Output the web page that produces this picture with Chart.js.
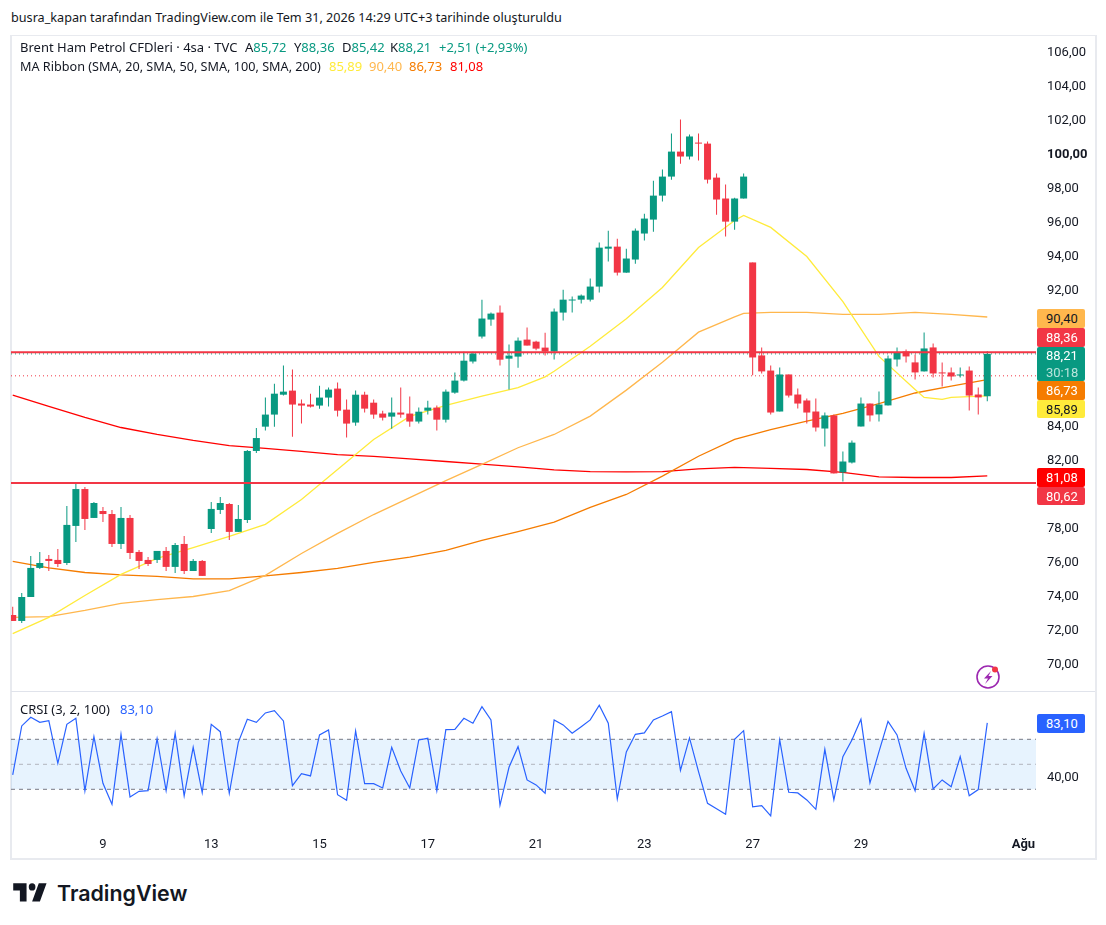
<!DOCTYPE html>
<html>
<head>
<meta charset="utf-8">
<title>Brent Ham Petrol CFDleri</title>
<script src="https://cdn.jsdelivr.net/npm/chart.js@4"></script>
<style type="text/css">
  html, body { margin: 0; padding: 0; background: #fff; }
  body { width: 1106px; height: 925px; position: relative; overflow: hidden;
         font-family: "Noto Sans", sans-serif; font-size: 13px; color: #131722; }
  #frame { position: absolute; left: 10px; top: 35px; width: 1083px; height: 822px; border: 1px solid #e8eaef; border-width: 1px 2px 2px 2px; }
  #sep { position: absolute; left: 11px; top: 691px; width: 1084px; height: 1px; background: #e0e3eb; }
  canvas { position: absolute; }
  #mainChart { left: 11px; top: 36px; }
  #crsiChart { left: 11px; top: 692px; }
  .txt { position: absolute; white-space: pre; line-height: 16px; }
  .box { position: absolute; left: 1037px; width: 39px; padding-left: 9px; text-align: left; line-height: 19px; border-radius: 2px; font-family: Roboto, sans-serif; }
  .g { color: #089981; }
</style>
<script>
// 4h candles
var opens = [72.85,72.50,73.91,75.62,76.15,76.09,75.91,78.09,80.26,78.56,78.97,78.79,77.03,78.56,76.56,76.09,76.09,76.62,75.68,77.03,75.44,76.03,77.91,79.03,79.38,77.74,78.44,82.50,83.93,84.64,85.81,86.05,85.29,85.23,85.17,85.64,86.17,84.93,84.17,85.81,85.34,84.70,84.52,84.76,84.70,84.23,84.87,85.05,84.34,85.93,86.64,87.76,89.23,90.23,90.64,87.93,88.05,89.05,88.93,88.58,88.35,90.64,91.35,91.40,91.40,92.17,94.40,94.52,92.99,93.76,95.29,96.11,97.52,98.64,100.11,99.82,100.64,100.58,98.58,97.35,95.99,97.35,93.59,88.12,87.23,84.82,87.00,85.82,85.47,84.82,83.82,84.59,81.24,81.82,83.94,85.29,84.65,85.18,87.88,88.35,87.71,87.18,88.59,87.12,87.12,86.94,87.23,85.82,85.72];
var highs = [73.34,74.15,76.32,76.56,76.38,76.74,79.26,80.62,80.38,79.50,79.21,79.03,79.21,78.74,76.68,76.26,76.62,76.85,77.09,77.50,76.15,76.09,79.50,79.79,79.44,79.32,82.56,83.85,85.64,86.46,87.52,87.29,85.52,85.87,86.34,86.23,86.52,85.52,86.05,85.99,85.52,84.87,85.64,86.23,85.70,85.05,85.46,85.17,86.11,87.11,88.34,88.34,91.40,90.64,91.05,88.76,89.17,89.76,88.99,89.46,90.88,91.99,91.58,91.70,92.64,94.76,95.46,94.99,94.40,95.58,96.46,98.40,99.05,101.17,102.00,101.11,101.17,100.70,98.82,98.17,97.40,98.82,93.59,88.59,87.53,87.41,87.00,86.18,85.59,85.59,84.76,84.65,82.47,83.12,85.65,85.29,86.00,88.12,88.59,88.47,88.18,89.47,88.82,87.71,87.41,87.41,87.47,86.23,88.36];
var lows = [72.50,72.38,73.91,75.56,75.44,75.68,75.79,77.15,77.85,78.56,78.32,76.85,76.74,76.15,75.56,75.74,75.91,75.44,75.32,75.26,75.44,75.15,77.68,78.79,77.26,77.74,78.26,82.38,83.70,83.93,85.76,83.34,84.11,85.05,84.99,85.11,84.52,83.29,83.99,84.76,84.40,84.29,83.81,84.46,83.93,84.11,84.64,83.70,84.17,85.87,86.58,87.64,89.11,89.87,87.52,86.11,87.40,88.70,88.42,88.11,87.88,90.17,90.64,91.17,91.29,91.82,93.64,92.82,92.99,93.52,94.88,95.40,97.17,98.46,99.40,99.64,99.58,98.23,96.40,95.11,95.52,97.35,86.96,87.06,84.65,84.82,85.65,85.00,84.12,83.65,82.76,81.18,80.71,81.76,83.94,84.24,84.24,85.18,87.47,87.71,86.71,87.18,86.82,86.29,86.65,86.82,84.88,84.65,85.42];
var closes = [72.50,73.91,75.62,75.91,76.03,75.85,78.15,80.26,78.50,79.44,78.79,77.03,78.56,76.50,76.03,75.85,76.62,75.68,76.97,75.44,76.03,75.15,79.09,79.44,77.74,78.50,82.50,83.26,84.64,85.87,85.99,85.23,85.17,85.11,85.64,86.11,84.87,84.11,85.81,84.99,84.64,84.46,84.76,84.64,84.23,84.81,85.05,84.34,85.99,86.64,87.81,88.23,90.29,90.58,87.87,88.11,88.99,88.70,88.52,88.35,90.70,91.40,91.40,91.64,92.17,94.46,94.52,92.99,93.82,95.46,96.17,97.52,98.64,100.11,99.82,101.00,100.58,98.46,97.29,95.99,97.35,98.64,88.00,87.18,84.76,87.00,85.76,85.29,84.76,83.88,84.59,81.18,81.88,82.99,85.29,84.59,85.23,87.94,88.29,88.06,87.12,88.53,87.06,87.06,86.88,87.00,85.76,85.65,88.21];

// MA ribbon, sampled about every 4 candles
var maIdx = [0,4,8,12,16,20,24,28,32,36,40,44,48,52,56,60,64,68,72,76,80,84,88,92,96,100,104,108];
var ma100 = [76.00,75.62,75.35,75.21,75.12,74.97,74.97,75.15,75.35,75.59,75.94,76.26,76.65,77.24,77.76,78.31,79.18,79.94,81.02,82.19,83.18,83.76,84.26,84.71,85.29,85.91,86.32,86.70];
var ma200 = [85.79,85.12,84.47,83.88,83.47,83.12,82.82,82.65,82.47,82.29,82.18,82.03,81.88,81.72,81.57,81.39,81.29,81.27,81.29,81.45,81.53,81.47,81.41,81.24,80.97,80.94,80.94,81.03];
var ma50Idx = [0,4,8,12,16,20,24,28,32,36,40,44,48,52,56,60,64,68,72,76,80,81,84,88,92,96,100,104,108];
var ma50 = [72.71,72.76,73.12,73.53,73.76,73.94,74.29,75.18,76.47,77.65,78.76,79.76,80.76,81.71,82.69,83.47,84.55,86.08,87.72,89.49,90.39,90.59,90.65,90.65,90.53,90.53,90.65,90.53,90.38];
var ma20Idx = [0,4,8,12,16,20,24,28,32,36,40,44,48,52,56,59,60,64,68,72,76,80,81,84,88,92,96,100,101,103,104,108];
var ma20 = [71.76,72.71,74.00,75.24,76.18,76.82,77.47,78.18,79.65,81.41,83.18,84.53,85.18,85.72,86.22,86.86,87.19,88.66,90.28,92.12,94.47,96.06,96.35,95.65,93.94,91.29,88.06,86.12,85.65,85.53,85.65,85.74];

var crsi = [41.5,80.7,87.6,83.6,84.9,50.8,82.0,86.8,28.7,72.1,34.8,18.0,74.0,23.9,28.4,28.9,70.5,28.9,74.8,24.7,63.6,27.3,82.0,76.1,26.8,67.6,86.0,83.6,91.1,92.9,84.7,32.9,42.5,40.7,73.5,77.5,25.7,21.2,76.7,34.5,34.5,31.1,63.6,44.7,31.1,69.5,70.8,28.9,77.7,78.0,86.8,82.8,96.1,85.5,17.2,47.6,64.1,37.5,33.5,26.8,85.5,81.5,74.8,80.1,85.5,97.2,82.8,22.3,59.9,74.0,75.1,85.5,88.7,92.1,45.2,71.1,44.1,18.8,14.5,10.0,70.0,76.9,15.9,17.0,8.7,69.5,27.6,27.1,21.5,14.0,62.0,21.5,56.1,69.5,86.0,35.1,60.1,84.4,73.5,46.8,28.9,74.8,30.3,37.5,32.1,56.1,24.9,29.8,83.1];

// axis ticks
var priceTicks = [106,104,102,100,98,96,94,92,84,82,78,76,74,72,70];
var crsiTicks = [40];
var timeIdx = [10,22,34,46,58,70,82,94,112];
var timeLabels = ['9','13','15','17','21','23','27','29','Ağu'];

// levels
var levelUpper = 88.31;
var levelLower = 80.62;
var lastClose = 88.21;
var prevRef = 86.92;
var bandTop = 70, bandMid = 50, bandBottom = 30;

var xMin = -0.19, xMax = 113.4;
var GREEN = '#089981', RED = '#f23645';

function fmt(v) { return v.toFixed(2).replace('.', ','); }
function pts(xs, ys) { return xs.map(function(x, i) { return {x: x, y: ys[i]}; }); }
function hline(v) { return [{x: xMin, y: v}, {x: xMax, y: v}]; }
function lineDs(data, color, width, order, dash) {
  return {type: 'line', data: data, borderColor: color, borderWidth: width, pointRadius: 0,
          tension: 0, order: order, borderDash: dash || [], fill: false};
}
// no label overhang padding, the plot has to fill the pane exactly
function noPad(s) { s.paddingTop = 0; s.paddingBottom = 0; s.paddingLeft = 0; s.paddingRight = 0; }

window.addEventListener('load', function() {
  var candleColors = closes.map(function(c, i) { return c >= opens[i] ? GREEN : RED; });
  var wickData = highs.map(function(h, i) { return {x: i, y: [lows[i], h]}; });
  var bodyData = opens.map(function(o, i) { return {x: i, y: [o, closes[i]]}; });

  new Chart(document.getElementById('mainChart'), {
    type: 'bar',
    data: {
      datasets: [
        lineDs(hline(levelUpper), RED, 2, -1),
        lineDs(hline(levelLower), RED, 2, -1),
        {data: bodyData, backgroundColor: candleColors, barThickness: 7, order: 0, grouped: false, minBarLength: 1, inflateAmount: 0},
        {data: wickData, backgroundColor: candleColors, barThickness: 1, order: 1, grouped: false, inflateAmount: 0},
        lineDs(pts(ma20Idx, ma20), '#ffeb3b', 1.3, 2),
        lineDs(pts(ma50Idx, ma50), '#ffb74d', 1.3, 3),
        lineDs(pts(maIdx, ma100), '#f57c00', 1.3, 4),
        lineDs(pts(maIdx, ma200), '#ff0000', 1.3, 5),
        lineDs(hline(lastClose), GREEN, 1, 6, [1, 3]),
        lineDs(hline(prevRef), RED, 1, 6, [1, 3])
      ]
    },
    options: {
      responsive: false, animation: false, events: [],
      layout: {padding: 0},
      plugins: {legend: {display: false}, tooltip: {enabled: false}},
      scales: {
        x: {type: 'linear', min: xMin, max: xMax, offset: false, display: false},
        y: {
          position: 'right', min: 68.38, max: 106.91,
          grid: {display: false}, border: {display: false},
          afterFit: function(s) { s.width = 59; noPad(s); },
          afterBuildTicks: function(s) { s.ticks = priceTicks.map(function(v) { return {value: v}; }); },
          ticks: {
            padding: 3, labelOffset: 1, color: '#131722', autoSkip: false, crossAlign: 'near',
            font: function(ctx) { return {family: 'Roboto', size: 13, weight: ctx.tick && ctx.tick.value === 100 ? 'bold' : 'normal'}; },
            callback: function(v) { return fmt(v); }
          }
        }
      }
    }
  });

  new Chart(document.getElementById('crsiChart'), {
    type: 'line',
    data: {
      datasets: [
        lineDs(pts(crsi.map(function(v, i) { return i; }), crsi), '#2962ff', 1.2, 0),
        lineDs(hline(bandTop), '#787b86', 1, 1, [4, 4]),
        lineDs(hline(bandMid), '#b2b5be', 1, 1, [4, 4]),
        lineDs(hline(bandBottom), '#787b86', 1, 1, [4, 4]),
        {type: 'line', data: hline(bandTop), borderWidth: 0, pointRadius: 0, order: 2,
         fill: {target: {value: bandBottom}}, backgroundColor: 'rgba(33,150,243,0.11)'}
      ]
    },
    options: {
      responsive: false, animation: false, events: [],
      layout: {padding: 0},
      plugins: {legend: {display: false}, tooltip: {enabled: false}},
      scales: {
        x: {
          type: 'linear', min: xMin, max: xMax, offset: false,
          grid: {display: false}, border: {display: false},
          afterFit: function(s) { s.height = 30; noPad(s); },
          afterBuildTicks: function(s) { s.ticks = timeIdx.map(function(v) { return {value: v}; }); },
          ticks: {
            padding: 1, color: '#131722', autoSkip: false, maxRotation: 0,
            font: function(ctx) { return {family: 'Roboto', size: 13, weight: ctx.tick && ctx.tick.value === 112 ? 'bold' : 'normal'}; },
            callback: function(v) { return timeLabels[timeIdx.indexOf(v)]; }
          }
        },
        y: {
          position: 'right', min: -0.96, max: 107.84,
          grid: {display: false}, border: {display: false},
          afterFit: function(s) { s.width = 59; noPad(s); },
          afterBuildTicks: function(s) { s.ticks = crsiTicks.map(function(v) { return {value: v}; }); },
          ticks: {
            padding: 3, labelOffset: 1, color: '#131722', crossAlign: 'near',
            font: {family: 'Roboto', size: 13},
            callback: function(v) { return fmt(v); }
          }
        }
      }
    }
  });
});
</script>
</head>
<body>
  <div id="frame"></div>
  <canvas id="mainChart" width="1084" height="655"></canvas>
  <canvas id="crsiChart" width="1084" height="166"></canvas>
  <div id="sep"></div>

  <div class="txt" style="left:11px;top:9px;font-size:12.65px">busra_kapan tarafından TradingView.com ile Tem 31, 2026 14:29 UTC+3 tarihinde oluşturuldu</div>

  <div class="txt" style="left:20px;top:39px">Brent Ham Petrol CFDleri · 4sa · TVC</div>
  <div class="txt" style="left:245px;top:39px">A<span class="g">85,72</span></div>
  <div class="txt" style="left:294px;top:39px">Y<span class="g">88,36</span></div>
  <div class="txt" style="left:342px;top:39px">D<span class="g">85,42</span></div>
  <div class="txt" style="left:390px;top:39px">K<span class="g">88,21</span></div>
  <div class="txt g" style="left:439px;top:39px">+2,51 (+2,93%)</div>

  <div class="txt" style="left:20px;top:58px;font-size:12.65px">MA Ribbon (SMA, 20, SMA, 50, SMA, 100, SMA, 200)</div>
  <div class="txt" style="left:329px;top:58px;color:#ffeb3b">85,89</div>
  <div class="txt" style="left:369px;top:58px;color:#ffb74d">90,40</div>
  <div class="txt" style="left:409px;top:58px;color:#f57c00">86,73</div>
  <div class="txt" style="left:450px;top:58px;color:#ff0000">81,08</div>

  <div class="txt" style="left:20px;top:701px">CRSI (3, 2, 100)</div>
  <div class="txt" style="left:120px;top:701px;color:#2962ff">83,10</div>

  <div class="box" style="top:309px;height:19px;background:#ffb74d;color:#131722">90,40</div>
  <div class="box" style="top:328px;height:19px;background:#f23645;color:#fff">88,36</div>
  <div class="box" style="top:347px;height:34px;line-height:17px;background:#089981;color:#fff">88,21<br><span style="color:#b9e4dc">30:18</span></div>
  <div class="box" style="top:381px;height:19px;background:#f57c00;color:#fff">86,73</div>
  <div class="box" style="top:400px;height:18px;background:#ffeb3b;color:#131722">85,89</div>
  <div class="box" style="top:468px;height:19px;background:#ff0000;color:#fff">81,08</div>
  <div class="box" style="top:487px;height:18px;background:#f23645;color:#fff">80,62</div>
  <div class="box" style="top:714px;height:19px;background:#2962ff;color:#fff">83,10</div>

  <svg style="position:absolute;left:975px;top:664px" width="28" height="28" viewBox="0 0 28 28">
    <circle cx="13" cy="13" r="11" fill="none" stroke="#9c27b0" stroke-width="1.6"/>
    <path d="M16 7 L9 14.5 H13 L10 20 L17.5 12 H13.5 Z" fill="#9c27b0"/>
    <circle cx="20" cy="5.5" r="3" fill="#f23645"/>
  </svg>

  <svg style="position:absolute;left:11px;top:876px" width="40" height="34" viewBox="0 0 36 28" preserveAspectRatio="none">
    <path d="M14 6H2v6h6v9h6V6zm12 15h-7l6-15h7l-6 15zm-7-9a3 3 0 1 0 0-6 3 3 0 0 0 0 6z" fill="#131722"/>
  </svg>
  <div class="txt" style="left:57px;top:880px;line-height:26px;font-family:Inter,sans-serif;font-size:21.4px;font-weight:600;color:#131722">TradingView</div>
</body>
</html>
